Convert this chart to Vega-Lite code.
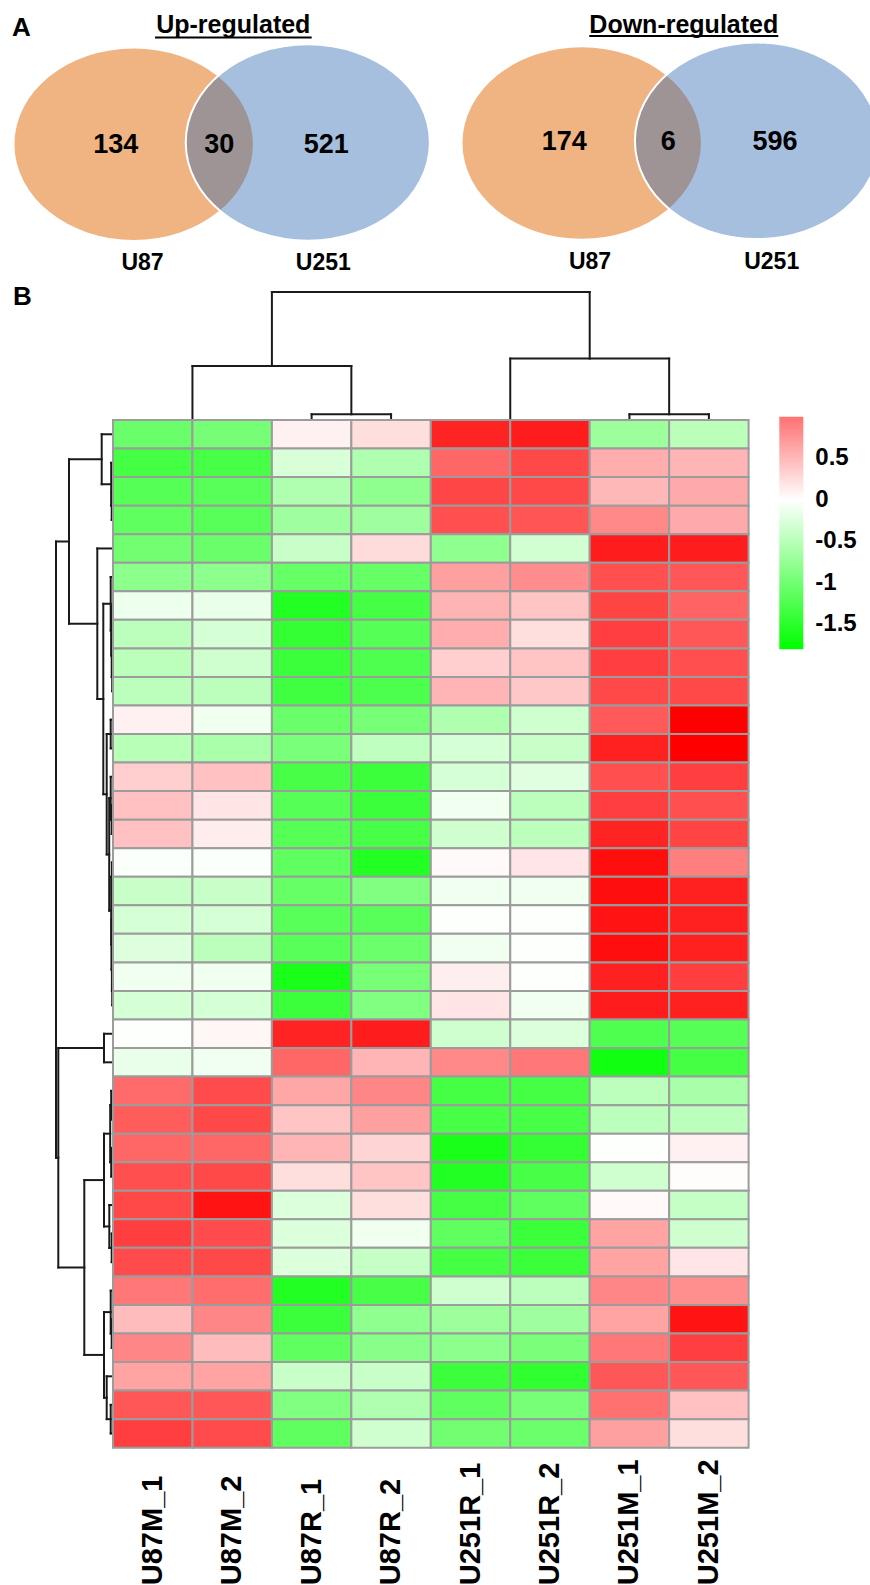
{
  "$schema": "https://vega.github.io/schema/vega-lite/v6.json",
  "padding": 0,
  "background": "white",
  "spacing": 0,
  "bounds": "flush",
  "config": {"view": {"stroke": null}, "font": "Liberation Sans"},
  "datasets": {
    "vennSets": [
      {"panel": "Up-regulated", "set": "U87", "cx": 13.37, "cy": 14.42},
      {"panel": "Up-regulated", "set": "U251", "cx": 30.78, "cy": 14.25},
      {"panel": "Down-regulated", "set": "U87", "cx": 58.17, "cy": 14.3},
      {"panel": "Down-regulated", "set": "U251", "cx": 75.7, "cy": 14.08}
    ],
    "vennCounts": [
      {"panel": "Up-regulated", "region": "U87 only", "count": 134, "x": 11.58, "y": 14.45},
      {"panel": "Up-regulated", "region": "both", "count": 30, "x": 21.92, "y": 14.45},
      {"panel": "Up-regulated", "region": "U251 only", "count": 521, "x": 32.63, "y": 14.45},
      {"panel": "Down-regulated", "region": "U87 only", "count": 174, "x": 56.42, "y": 14.17},
      {"panel": "Down-regulated", "region": "both", "count": 6, "x": 66.83, "y": 14.17},
      {"panel": "Down-regulated", "region": "U251 only", "count": 596, "x": 77.5, "y": 14.17}
    ],
    "vennSetLabels": [
      {"panel": "Up-regulated", "set": "U87", "x": 14.25, "y": 26.33},
      {"panel": "Up-regulated", "set": "U251", "x": 32.33, "y": 26.33},
      {"panel": "Down-regulated", "set": "U87", "x": 59.0, "y": 26.17},
      {"panel": "Down-regulated", "set": "U251", "x": 77.17, "y": 26.17}
    ],
    "vennTitles": [
      {"panel": "Up-regulated", "x": 23.33, "y": 3.3, "ux1": 15.5, "ux2": 31.17, "uy": 3.75},
      {"panel": "Down-regulated", "x": 68.38, "y": 3.25, "ux1": 58.93, "ux2": 77.83, "uy": 3.6}
    ],
    "colTree": [
      {"p1": 2, "p2": 6, "h1": 127.3, "h2": 127.3},
      {"p1": 2, "p2": 2, "h1": 53.3, "h2": 127.3},
      {"p1": 6, "p2": 6, "h1": 60.7, "h2": 127.3},
      {"p1": 1, "p2": 3, "h1": 53.3, "h2": 53.3},
      {"p1": 1, "p2": 1, "h1": 0, "h2": 53.3},
      {"p1": 3, "p2": 3, "h1": 5, "h2": 53.3},
      {"p1": 2.5, "p2": 3.5, "h1": 5, "h2": 5},
      {"p1": 2.5, "p2": 2.5, "h1": 0, "h2": 5},
      {"p1": 3.5, "p2": 3.5, "h1": 0, "h2": 5},
      {"p1": 5, "p2": 7, "h1": 60.7, "h2": 60.7},
      {"p1": 5, "p2": 5, "h1": 0, "h2": 60.7},
      {"p1": 7, "p2": 7, "h1": 5, "h2": 60.7},
      {"p1": 6.5, "p2": 7.5, "h1": 5, "h2": 5},
      {"p1": 6.5, "p2": 6.5, "h1": 0, "h2": 5},
      {"p1": 7.5, "p2": 7.5, "h1": 0, "h2": 5}
    ],
    "rowTree": [
      {"h1": 1, "h2": 1, "p1": 2.5, "p2": 3.5}, {"h1": 0, "h2": 1, "p1": 2.5, "p2": 2.5}, {"h1": 0, "h2": 1, "p1": 3.5, "p2": 3.5},
      {"h1": 1.5, "h2": 1.5, "p1": 1.5, "p2": 3.0}, {"h1": 0, "h2": 1.5, "p1": 1.5, "p2": 1.5}, {"h1": 1, "h2": 1.5, "p1": 3.0, "p2": 3.0},
      {"h1": 11, "h2": 11, "p1": 0.5, "p2": 2.25}, {"h1": 0, "h2": 11, "p1": 0.5, "p2": 0.5}, {"h1": 1.5, "h2": 11, "p1": 2.25, "p2": 2.25},
      {"h1": 0.5, "h2": 0.5, "p1": 8.5, "p2": 9.5}, {"h1": 0, "h2": 0.5, "p1": 8.5, "p2": 8.5}, {"h1": 0, "h2": 0.5, "p1": 9.5, "p2": 9.5},
      {"h1": 1, "h2": 1, "p1": 7.5, "p2": 9.0}, {"h1": 0, "h2": 1, "p1": 7.5, "p2": 7.5}, {"h1": 0.5, "h2": 1, "p1": 9.0, "p2": 9.0},
      {"h1": 1.5, "h2": 1.5, "p1": 6.5, "p2": 8.25}, {"h1": 0, "h2": 1.5, "p1": 6.5, "p2": 6.5}, {"h1": 1, "h2": 1.5, "p1": 8.25, "p2": 8.25},
      {"h1": 2, "h2": 2, "p1": 5.5, "p2": 7.375}, {"h1": 0, "h2": 2, "p1": 5.5, "p2": 5.5}, {"h1": 1.5, "h2": 2, "p1": 7.375, "p2": 7.375},
      {"h1": 2, "h2": 2, "p1": 10.5, "p2": 11.5}, {"h1": 0, "h2": 2, "p1": 10.5, "p2": 10.5}, {"h1": 0, "h2": 2, "p1": 11.5, "p2": 11.5},
      {"h1": 1, "h2": 1, "p1": 13.5, "p2": 14.5}, {"h1": 0, "h2": 1, "p1": 13.5, "p2": 13.5}, {"h1": 0, "h2": 1, "p1": 14.5, "p2": 14.5},
      {"h1": 2, "h2": 2, "p1": 12.5, "p2": 14.0}, {"h1": 0, "h2": 2, "p1": 12.5, "p2": 12.5}, {"h1": 1, "h2": 2, "p1": 14.0, "p2": 14.0},
      {"h1": 0.8, "h2": 0.8, "p1": 15.5, "p2": 16.5}, {"h1": 0, "h2": 0.8, "p1": 15.5, "p2": 15.5}, {"h1": 0, "h2": 0.8, "p1": 16.5, "p2": 16.5},
      {"h1": 0.5, "h2": 0.5, "p1": 19.5, "p2": 20.5}, {"h1": 0, "h2": 0.5, "p1": 19.5, "p2": 19.5}, {"h1": 0, "h2": 0.5, "p1": 20.5, "p2": 20.5},
      {"h1": 0.8, "h2": 0.8, "p1": 18.5, "p2": 20.0}, {"h1": 0, "h2": 0.8, "p1": 18.5, "p2": 18.5}, {"h1": 0.5, "h2": 0.8, "p1": 20.0, "p2": 20.0},
      {"h1": 1.2, "h2": 1.2, "p1": 17.5, "p2": 19.25}, {"h1": 0, "h2": 1.2, "p1": 17.5, "p2": 17.5}, {"h1": 0.8, "h2": 1.2, "p1": 19.25, "p2": 19.25},
      {"h1": 1.5, "h2": 1.5, "p1": 16.0, "p2": 18.375}, {"h1": 0.8, "h2": 1.5, "p1": 16.0, "p2": 16.0}, {"h1": 1.2, "h2": 1.5, "p1": 18.375, "p2": 18.375},
      {"h1": 3.5, "h2": 3.5, "p1": 13.25, "p2": 17.1875}, {"h1": 2, "h2": 3.5, "p1": 13.25, "p2": 13.25}, {"h1": 1.5, "h2": 3.5, "p1": 17.1875, "p2": 17.1875},
      {"h1": 6, "h2": 6, "p1": 11.0, "p2": 15.2188}, {"h1": 2, "h2": 6, "p1": 11.0, "p2": 11.0}, {"h1": 3.5, "h2": 6, "p1": 15.2188, "p2": 15.2188},
      {"h1": 9.4, "h2": 9.4, "p1": 6.4375, "p2": 13.1094}, {"h1": 2, "h2": 9.4, "p1": 6.4375, "p2": 6.4375}, {"h1": 6, "h2": 9.4, "p1": 13.1094, "p2": 13.1094},
      {"h1": 15.4, "h2": 15.4, "p1": 4.5, "p2": 9.7734}, {"h1": 0, "h2": 15.4, "p1": 4.5, "p2": 4.5}, {"h1": 9.4, "h2": 15.4, "p1": 9.7734, "p2": 9.7734},
      {"h1": 43.7, "h2": 43.7, "p1": 1.375, "p2": 7.1367}, {"h1": 11, "h2": 43.7, "p1": 1.375, "p2": 1.375}, {"h1": 15.4, "h2": 43.7, "p1": 7.1367, "p2": 7.1367},
      {"h1": 8.7, "h2": 8.7, "p1": 21.5, "p2": 22.5}, {"h1": 0, "h2": 8.7, "p1": 21.5, "p2": 21.5}, {"h1": 0, "h2": 8.7, "p1": 22.5, "p2": 22.5},
      {"h1": 1.5, "h2": 1.5, "p1": 23.5, "p2": 24.5}, {"h1": 0, "h2": 1.5, "p1": 23.5, "p2": 23.5}, {"h1": 0, "h2": 1.5, "p1": 24.5, "p2": 24.5},
      {"h1": 1.5, "h2": 1.5, "p1": 25.5, "p2": 26.5}, {"h1": 0, "h2": 1.5, "p1": 25.5, "p2": 25.5}, {"h1": 0, "h2": 1.5, "p1": 26.5, "p2": 26.5},
      {"h1": 2.5, "h2": 2.5, "p1": 24, "p2": 26}, {"h1": 1.5, "h2": 2.5, "p1": 24, "p2": 24}, {"h1": 1.5, "h2": 2.5, "p1": 26, "p2": 26},
      {"h1": 1, "h2": 1, "p1": 28.5, "p2": 29.5}, {"h1": 0, "h2": 1, "p1": 28.5, "p2": 28.5}, {"h1": 0, "h2": 1, "p1": 29.5, "p2": 29.5},
      {"h1": 3.4, "h2": 3.4, "p1": 27.5, "p2": 29}, {"h1": 0, "h2": 3.4, "p1": 27.5, "p2": 27.5}, {"h1": 1, "h2": 3.4, "p1": 29, "p2": 29},
      {"h1": 8.7, "h2": 8.7, "p1": 25, "p2": 28.25}, {"h1": 2.5, "h2": 8.7, "p1": 25, "p2": 25}, {"h1": 3.4, "h2": 8.7, "p1": 28.25, "p2": 28.25},
      {"h1": 1, "h2": 1, "p1": 31.5, "p2": 32.5}, {"h1": 0, "h2": 1, "p1": 31.5, "p2": 31.5}, {"h1": 0, "h2": 1, "p1": 32.5, "p2": 32.5},
      {"h1": 2, "h2": 2, "p1": 30.5, "p2": 32}, {"h1": 0, "h2": 2, "p1": 30.5, "p2": 30.5}, {"h1": 1, "h2": 2, "p1": 32, "p2": 32},
      {"h1": 2, "h2": 2, "p1": 34.5, "p2": 35.5}, {"h1": 0, "h2": 2, "p1": 34.5, "p2": 34.5}, {"h1": 0, "h2": 2, "p1": 35.5, "p2": 35.5},
      {"h1": 6, "h2": 6, "p1": 33.5, "p2": 35}, {"h1": 0, "h2": 6, "p1": 33.5, "p2": 33.5}, {"h1": 2, "h2": 6, "p1": 35, "p2": 35},
      {"h1": 8.7, "h2": 8.7, "p1": 31.25, "p2": 34.25}, {"h1": 2, "h2": 8.7, "p1": 31.25, "p2": 31.25}, {"h1": 6, "h2": 8.7, "p1": 34.25, "p2": 34.25},
      {"h1": 28.4, "h2": 28.4, "p1": 26.625, "p2": 32.75}, {"h1": 8.7, "h2": 28.4, "p1": 26.625, "p2": 26.625}, {"h1": 8.7, "h2": 28.4, "p1": 32.75, "p2": 32.75},
      {"h1": 54.4, "h2": 54.4, "p1": 22, "p2": 29.6875}, {"h1": 8.7, "h2": 54.4, "p1": 22, "p2": 22}, {"h1": 28.4, "h2": 54.4, "p1": 29.6875, "p2": 29.6875},
      {"h1": 56.7, "h2": 56.7, "p1": 4.2559, "p2": 25.8438}, {"h1": 43.7, "h2": 56.7, "p1": 4.2559, "p2": 4.2559}, {"h1": 54.4, "h2": 56.7, "p1": 25.8438, "p2": 25.8438}
    ],
    "cells": [
      {"gene":1,"sample":"U87M_1","value":-1.05},{"gene":1,"sample":"U87M_2","value":-0.97},{"gene":1,"sample":"U87R_1","value":0.10},{"gene":1,"sample":"U87R_2","value":0.23},{"gene":1,"sample":"U251R_1","value":1.54},{"gene":1,"sample":"U251R_2","value":1.60},{"gene":1,"sample":"U251M_1","value":-0.70},{"gene":1,"sample":"U251M_2","value":-0.48},
      {"gene":2,"sample":"U87M_1","value":-1.32},{"gene":2,"sample":"U87M_2","value":-1.29},{"gene":2,"sample":"U87R_1","value":-0.27},{"gene":2,"sample":"U87R_2","value":-0.56},{"gene":2,"sample":"U251R_1","value":1.08},{"gene":2,"sample":"U251R_2","value":1.29},{"gene":2,"sample":"U251M_1","value":0.58},{"gene":2,"sample":"U251M_2","value":0.52},
      {"gene":3,"sample":"U87M_1","value":-1.20},{"gene":3,"sample":"U87M_2","value":-1.18},{"gene":3,"sample":"U87R_1","value":-0.56},{"gene":3,"sample":"U87R_2","value":-0.79},{"gene":3,"sample":"U251R_1","value":1.30},{"gene":3,"sample":"U251R_2","value":1.28},{"gene":3,"sample":"U251M_1","value":0.50},{"gene":3,"sample":"U251M_2","value":0.60},
      {"gene":4,"sample":"U87M_1","value":-1.12},{"gene":4,"sample":"U87M_2","value":-1.18},{"gene":4,"sample":"U87R_1","value":-0.68},{"gene":4,"sample":"U87R_2","value":-0.68},{"gene":4,"sample":"U251R_1","value":1.24},{"gene":4,"sample":"U251R_2","value":1.20},{"gene":4,"sample":"U251M_1","value":0.84},{"gene":4,"sample":"U251M_2","value":0.60},
      {"gene":5,"sample":"U87M_1","value":-1.00},{"gene":5,"sample":"U87M_2","value":-1.05},{"gene":5,"sample":"U87R_1","value":-0.39},{"gene":5,"sample":"U87R_2","value":0.25},{"gene":5,"sample":"U251R_1","value":-0.79},{"gene":5,"sample":"U251R_2","value":-0.32},{"gene":5,"sample":"U251M_1","value":1.60},{"gene":5,"sample":"U251M_2","value":1.60},
      {"gene":6,"sample":"U87M_1","value":-0.81},{"gene":6,"sample":"U87M_2","value":-0.81},{"gene":6,"sample":"U87R_1","value":-1.08},{"gene":6,"sample":"U87R_2","value":-1.08},{"gene":6,"sample":"U251R_1","value":0.67},{"gene":6,"sample":"U251R_2","value":0.80},{"gene":6,"sample":"U251M_1","value":1.24},{"gene":6,"sample":"U251M_2","value":1.18},
      {"gene":7,"sample":"U87M_1","value":-0.13},{"gene":7,"sample":"U87M_2","value":-0.15},{"gene":7,"sample":"U87R_1","value":-1.56},{"gene":7,"sample":"U87R_2","value":-1.32},{"gene":7,"sample":"U251R_1","value":0.53},{"gene":7,"sample":"U251R_2","value":0.41},{"gene":7,"sample":"U251M_1","value":1.32},{"gene":7,"sample":"U251M_2","value":1.10},
      {"gene":8,"sample":"U87M_1","value":-0.47},{"gene":8,"sample":"U87M_2","value":-0.30},{"gene":8,"sample":"U87R_1","value":-1.44},{"gene":8,"sample":"U87R_2","value":-1.20},{"gene":8,"sample":"U251R_1","value":0.58},{"gene":8,"sample":"U251R_2","value":0.23},{"gene":8,"sample":"U251M_1","value":1.35},{"gene":8,"sample":"U251M_2","value":1.18},
      {"gene":9,"sample":"U87M_1","value":-0.48},{"gene":9,"sample":"U87M_2","value":-0.34},{"gene":9,"sample":"U87R_1","value":-1.38},{"gene":9,"sample":"U87R_2","value":-1.24},{"gene":9,"sample":"U251R_1","value":0.34},{"gene":9,"sample":"U251R_2","value":0.41},{"gene":9,"sample":"U251M_1","value":1.35},{"gene":9,"sample":"U251M_2","value":1.24},
      {"gene":10,"sample":"U87M_1","value":-0.47},{"gene":10,"sample":"U87M_2","value":-0.47},{"gene":10,"sample":"U87R_1","value":-1.35},{"gene":10,"sample":"U87R_2","value":-1.26},{"gene":10,"sample":"U251R_1","value":0.52},{"gene":10,"sample":"U251R_2","value":0.39},{"gene":10,"sample":"U251M_1","value":1.29},{"gene":10,"sample":"U251M_2","value":1.29},
      {"gene":11,"sample":"U87M_1","value":0.10},{"gene":11,"sample":"U87M_2","value":-0.10},{"gene":11,"sample":"U87R_1","value":-1.05},{"gene":11,"sample":"U87R_2","value":-0.96},{"gene":11,"sample":"U251R_1","value":-0.56},{"gene":11,"sample":"U251R_2","value":-0.34},{"gene":11,"sample":"U251M_1","value":1.17},{"gene":11,"sample":"U251M_2","value":1.80},
      {"gene":12,"sample":"U87M_1","value":-0.50},{"gene":12,"sample":"U87M_2","value":-0.60},{"gene":12,"sample":"U87R_1","value":-0.94},{"gene":12,"sample":"U87R_2","value":-0.45},{"gene":12,"sample":"U251R_1","value":-0.30},{"gene":12,"sample":"U251R_2","value":-0.39},{"gene":12,"sample":"U251M_1","value":1.57},{"gene":12,"sample":"U251M_2","value":1.80},
      {"gene":13,"sample":"U87M_1","value":0.34},{"gene":13,"sample":"U87M_2","value":0.44},{"gene":13,"sample":"U87R_1","value":-1.29},{"gene":13,"sample":"U87R_2","value":-1.38},{"gene":13,"sample":"U251R_1","value":-0.30},{"gene":13,"sample":"U251R_2","value":-0.22},{"gene":13,"sample":"U251M_1","value":1.24},{"gene":13,"sample":"U251M_2","value":1.35},
      {"gene":14,"sample":"U87M_1","value":0.44},{"gene":14,"sample":"U87M_2","value":0.18},{"gene":14,"sample":"U87R_1","value":-1.20},{"gene":14,"sample":"U87R_2","value":-1.39},{"gene":14,"sample":"U251R_1","value":-0.10},{"gene":14,"sample":"U251R_2","value":-0.47},{"gene":14,"sample":"U251M_1","value":1.35},{"gene":14,"sample":"U251M_2","value":1.24},
      {"gene":15,"sample":"U87M_1","value":0.44},{"gene":15,"sample":"U87M_2","value":0.13},{"gene":15,"sample":"U87R_1","value":-1.20},{"gene":15,"sample":"U87R_2","value":-1.29},{"gene":15,"sample":"U251R_1","value":-0.34},{"gene":15,"sample":"U251R_2","value":-0.47},{"gene":15,"sample":"U251M_1","value":1.54},{"gene":15,"sample":"U251M_2","value":1.32},
      {"gene":16,"sample":"U87M_1","value":-0.03},{"gene":16,"sample":"U87M_2","value":-0.03},{"gene":16,"sample":"U87R_1","value":-1.12},{"gene":16,"sample":"U87R_2","value":-1.56},{"gene":16,"sample":"U251R_1","value":0.04},{"gene":16,"sample":"U251R_2","value":0.18},{"gene":16,"sample":"U251M_1","value":1.70},{"gene":16,"sample":"U251M_2","value":0.90},
      {"gene":17,"sample":"U87M_1","value":-0.39},{"gene":17,"sample":"U87M_2","value":-0.39},{"gene":17,"sample":"U87R_1","value":-1.08},{"gene":17,"sample":"U87R_2","value":-0.90},{"gene":17,"sample":"U251R_1","value":-0.10},{"gene":17,"sample":"U251R_2","value":-0.10},{"gene":17,"sample":"U251M_1","value":1.70},{"gene":17,"sample":"U251M_2","value":1.57},
      {"gene":18,"sample":"U87M_1","value":-0.30},{"gene":18,"sample":"U87M_2","value":-0.30},{"gene":18,"sample":"U87R_1","value":-1.18},{"gene":18,"sample":"U87R_2","value":-1.18},{"gene":18,"sample":"U251R_1","value":-0.02},{"gene":18,"sample":"U251R_2","value":-0.02},{"gene":18,"sample":"U251M_1","value":1.66},{"gene":18,"sample":"U251M_2","value":1.57},
      {"gene":19,"sample":"U87M_1","value":-0.24},{"gene":19,"sample":"U87M_2","value":-0.47},{"gene":19,"sample":"U87R_1","value":-1.18},{"gene":19,"sample":"U87R_2","value":-1.04},{"gene":19,"sample":"U251R_1","value":-0.10},{"gene":19,"sample":"U251R_2","value":-0.02},{"gene":19,"sample":"U251M_1","value":1.70},{"gene":19,"sample":"U251M_2","value":1.57},
      {"gene":20,"sample":"U87M_1","value":-0.10},{"gene":20,"sample":"U87M_2","value":-0.10},{"gene":20,"sample":"U87R_1","value":-1.62},{"gene":20,"sample":"U87R_2","value":-0.96},{"gene":20,"sample":"U251R_1","value":0.12},{"gene":20,"sample":"U251R_2","value":-0.02},{"gene":20,"sample":"U251M_1","value":1.56},{"gene":20,"sample":"U251M_2","value":1.35},
      {"gene":21,"sample":"U87M_1","value":-0.30},{"gene":21,"sample":"U87M_2","value":-0.30},{"gene":21,"sample":"U87R_1","value":-1.38},{"gene":21,"sample":"U87R_2","value":-0.90},{"gene":21,"sample":"U251R_1","value":0.18},{"gene":21,"sample":"U251R_2","value":-0.10},{"gene":21,"sample":"U251M_1","value":1.60},{"gene":21,"sample":"U251M_2","value":1.57},
      {"gene":22,"sample":"U87M_1","value":-0.02},{"gene":22,"sample":"U87M_2","value":0.06},{"gene":22,"sample":"U87R_1","value":1.55},{"gene":22,"sample":"U87R_2","value":1.60},{"gene":22,"sample":"U251R_1","value":-0.34},{"gene":22,"sample":"U251R_2","value":-0.25},{"gene":22,"sample":"U251M_1","value":-1.24},{"gene":22,"sample":"U251M_2","value":-1.20},
      {"gene":23,"sample":"U87M_1","value":-0.15},{"gene":23,"sample":"U87M_2","value":-0.10},{"gene":23,"sample":"U87R_1","value":1.08},{"gene":23,"sample":"U87R_2","value":0.52},{"gene":23,"sample":"U251R_1","value":0.84},{"gene":23,"sample":"U251R_2","value":0.96},{"gene":23,"sample":"U251M_1","value":-1.68},{"gene":23,"sample":"U251M_2","value":-1.32},
      {"gene":24,"sample":"U87M_1","value":1.05},{"gene":24,"sample":"U87M_2","value":1.27},{"gene":24,"sample":"U87R_1","value":0.62},{"gene":24,"sample":"U87R_2","value":0.85},{"gene":24,"sample":"U251R_1","value":-1.32},{"gene":24,"sample":"U251R_2","value":-1.32},{"gene":24,"sample":"U251M_1","value":-0.47},{"gene":24,"sample":"U251M_2","value":-0.61},
      {"gene":25,"sample":"U87M_1","value":1.15},{"gene":25,"sample":"U87M_2","value":1.29},{"gene":25,"sample":"U87R_1","value":0.41},{"gene":25,"sample":"U87R_2","value":0.67},{"gene":25,"sample":"U251R_1","value":-1.29},{"gene":25,"sample":"U251R_2","value":-1.29},{"gene":25,"sample":"U251M_1","value":-0.47},{"gene":25,"sample":"U251M_2","value":-0.47},
      {"gene":26,"sample":"U87M_1","value":1.08},{"gene":26,"sample":"U87M_2","value":1.08},{"gene":26,"sample":"U87R_1","value":0.52},{"gene":26,"sample":"U87R_2","value":0.30},{"gene":26,"sample":"U251R_1","value":-1.62},{"gene":26,"sample":"U251R_2","value":-1.44},{"gene":26,"sample":"U251M_1","value":-0.02},{"gene":26,"sample":"U251M_2","value":0.10},
      {"gene":27,"sample":"U87M_1","value":1.24},{"gene":27,"sample":"U87M_2","value":1.29},{"gene":27,"sample":"U87R_1","value":0.23},{"gene":27,"sample":"U87R_2","value":0.41},{"gene":27,"sample":"U251R_1","value":-1.56},{"gene":27,"sample":"U251R_2","value":-1.29},{"gene":27,"sample":"U251M_1","value":-0.34},{"gene":27,"sample":"U251M_2","value":0.02},
      {"gene":28,"sample":"U87M_1","value":1.29},{"gene":28,"sample":"U87M_2","value":1.66},{"gene":28,"sample":"U87R_1","value":-0.25},{"gene":28,"sample":"U87R_2","value":0.23},{"gene":28,"sample":"U251R_1","value":-1.32},{"gene":28,"sample":"U251R_2","value":-1.14},{"gene":28,"sample":"U251M_1","value":0.04},{"gene":28,"sample":"U251M_2","value":-0.41},
      {"gene":29,"sample":"U87M_1","value":1.35},{"gene":29,"sample":"U87M_2","value":1.27},{"gene":29,"sample":"U87R_1","value":-0.25},{"gene":29,"sample":"U87R_2","value":-0.10},{"gene":29,"sample":"U251R_1","value":-1.14},{"gene":29,"sample":"U251R_2","value":-1.39},{"gene":29,"sample":"U251M_1","value":0.65},{"gene":29,"sample":"U251M_2","value":-0.34},
      {"gene":30,"sample":"U87M_1","value":1.27},{"gene":30,"sample":"U87M_2","value":1.29},{"gene":30,"sample":"U87R_1","value":-0.25},{"gene":30,"sample":"U87R_2","value":-0.41},{"gene":30,"sample":"U251R_1","value":-1.32},{"gene":30,"sample":"U251R_2","value":-1.38},{"gene":30,"sample":"U251M_1","value":0.65},{"gene":30,"sample":"U251M_2","value":0.18},
      {"gene":31,"sample":"U87M_1","value":0.96},{"gene":31,"sample":"U87M_2","value":1.03},{"gene":31,"sample":"U87R_1","value":-1.56},{"gene":31,"sample":"U87R_2","value":-1.29},{"gene":31,"sample":"U251R_1","value":-0.34},{"gene":31,"sample":"U251R_2","value":-0.47},{"gene":31,"sample":"U251M_1","value":0.85},{"gene":31,"sample":"U251M_2","value":0.79},
      {"gene":32,"sample":"U87M_1","value":0.47},{"gene":32,"sample":"U87M_2","value":0.85},{"gene":32,"sample":"U87R_1","value":-1.39},{"gene":32,"sample":"U87R_2","value":-0.79},{"gene":32,"sample":"U251R_1","value":-0.70},{"gene":32,"sample":"U251R_2","value":-0.68},{"gene":32,"sample":"U251M_1","value":0.65},{"gene":32,"sample":"U251M_2","value":1.66},
      {"gene":33,"sample":"U87M_1","value":0.85},{"gene":33,"sample":"U87M_2","value":0.47},{"gene":33,"sample":"U87R_1","value":-1.14},{"gene":33,"sample":"U87R_2","value":-0.84},{"gene":33,"sample":"U251R_1","value":-0.81},{"gene":33,"sample":"U251R_2","value":-0.93},{"gene":33,"sample":"U251M_1","value":0.96},{"gene":33,"sample":"U251M_2","value":1.35},
      {"gene":34,"sample":"U87M_1","value":0.65},{"gene":34,"sample":"U87M_2","value":0.65},{"gene":34,"sample":"U87R_1","value":-0.39},{"gene":34,"sample":"U87R_2","value":-0.39},{"gene":34,"sample":"U251R_1","value":-1.39},{"gene":34,"sample":"U251R_2","value":-1.46},{"gene":34,"sample":"U251M_1","value":1.18},{"gene":34,"sample":"U251M_2","value":1.18},
      {"gene":35,"sample":"U87M_1","value":1.18},{"gene":35,"sample":"U87M_2","value":1.18},{"gene":35,"sample":"U87R_1","value":-0.90},{"gene":35,"sample":"U87R_2","value":-0.56},{"gene":35,"sample":"U251R_1","value":-1.14},{"gene":35,"sample":"U251R_2","value":-0.96},{"gene":35,"sample":"U251M_1","value":1.00},{"gene":35,"sample":"U251M_2","value":0.44},
      {"gene":36,"sample":"U87M_1","value":1.35},{"gene":36,"sample":"U87M_2","value":1.27},{"gene":36,"sample":"U87R_1","value":-1.14},{"gene":36,"sample":"U87R_2","value":-0.34},{"gene":36,"sample":"U251R_1","value":-1.00},{"gene":36,"sample":"U251R_2","value":-1.04},{"gene":36,"sample":"U251M_1","value":0.67},{"gene":36,"sample":"U251M_2","value":0.23}
    ]
  },
  "vconcat": [
    {
      "width": 870,
      "height": 270,
      "layer": [
        {
          "data": {"name": "vennSets"},
          "transform": [{"filter": "datum.set === 'U87'"}],
          "mark": {"type": "point", "shape": "M 1 0 C 1 0.4446 0.5523 0.805 0 0.805 C -0.5523 0.805 -1 0.4446 -1 0 C -1 -0.4446 -0.5523 -0.805 0 -0.805 C 0.5523 -0.805 1 -0.4446 1 0 Z", "filled": true, "fill": "#f0b482", "fillOpacity": 1, "opacity": 1, "stroke": "white", "strokeWidth": 2, "strokeOpacity": 1, "size": 57800},
          "encoding": {
            "x": {"field": "cx", "type": "quantitative", "scale": {"domain": [0, 87], "nice": false, "zero": false}, "axis": null},
            "y": {"field": "cy", "type": "quantitative", "scale": {"domain": [0, 27], "nice": false, "zero": false, "reverse": true}, "axis": null}
          }
        },
        {
          "data": {"name": "vennSets"},
          "transform": [{"filter": "datum.set === 'U251'"}],
          "mark": {"type": "point", "clip": true, "shape": "M 1 0 C 1 0.4446 0.5523 0.805 0 0.805 C -0.5523 0.805 -1 0.4446 -1 0 C -1 -0.4446 -0.5523 -0.805 0 -0.805 C 0.5523 -0.805 1 -0.4446 1 0 Z", "filled": true, "fill": "#2e67b0", "fillOpacity": 0.42, "opacity": 1, "stroke": "white", "strokeWidth": 2, "strokeOpacity": 1, "size": 59600},
          "encoding": {
            "x": {"field": "cx", "type": "quantitative"},
            "y": {"field": "cy", "type": "quantitative"}
          }
        },
        {
          "data": {"name": "vennCounts"},
          "mark": {"type": "text", "font": "Liberation Sans", "fontWeight": "bold", "fontSize": 27, "align": "center", "baseline": "middle", "color": "black"},
          "encoding": {
            "x": {"field": "x", "type": "quantitative"},
            "y": {"field": "y", "type": "quantitative"},
            "text": {"field": "count", "type": "quantitative"}
          }
        },
        {
          "data": {"name": "vennSetLabels"},
          "mark": {"type": "text", "font": "Liberation Sans", "fontWeight": "bold", "fontSize": 23, "align": "center", "baseline": "middle", "color": "black"},
          "encoding": {
            "x": {"field": "x", "type": "quantitative"},
            "y": {"field": "y", "type": "quantitative"},
            "text": {"field": "set", "type": "nominal"}
          }
        },
        {
          "data": {"name": "vennTitles"},
          "mark": {"type": "text", "font": "Liberation Sans", "fontWeight": "bold", "fontSize": 25, "align": "center", "baseline": "alphabetic", "color": "black"},
          "encoding": {
            "x": {"field": "x", "type": "quantitative"},
            "y": {"field": "y", "type": "quantitative"},
            "text": {"field": "panel", "type": "nominal"}
          }
        },
        {
          "data": {"name": "vennTitles"},
          "mark": {"type": "rule", "color": "black", "strokeWidth": 2},
          "encoding": {
            "x": {"field": "ux1", "type": "quantitative"},
            "x2": {"field": "ux2"},
            "y": {"field": "uy", "type": "quantitative"}
          }
        },
        {
          "data": {"values": [{"label": "A", "x": 1.2, "y": 3.6}]},
          "mark": {"type": "text", "font": "Liberation Sans", "fontWeight": "bold", "fontSize": 26, "align": "left", "baseline": "alphabetic", "color": "black"},
          "encoding": {
            "x": {"field": "x", "type": "quantitative"},
            "y": {"field": "y", "type": "quantitative"},
            "text": {"field": "label", "type": "nominal"}
          }
        }
      ]
    },
    {
      "columns": 2,
      "spacing": 0,
      "bounds": "flush",
      "concat": [
        {
          "width": 112.7,
          "height": 149.3,
          "data": {"values": [{"label": "B", "x": 1.3, "y": 3.5}]},
          "mark": {"type": "text", "font": "Liberation Sans", "fontWeight": "bold", "fontSize": 26, "align": "left", "baseline": "alphabetic", "color": "black"},
          "encoding": {
            "x": {"field": "x", "type": "quantitative", "scale": {"domain": [0, 11.27], "nice": false, "zero": false}, "axis": null},
            "y": {"field": "y", "type": "quantitative", "scale": {"domain": [0, 14.93], "nice": false, "zero": false, "reverse": true}, "axis": null},
            "text": {"field": "label", "type": "nominal"}
          }
        },
        {
          "width": 635.6,
          "height": 149.3,
          "data": {"name": "colTree"},
          "mark": {"type": "rule", "color": "#1a1a1a", "strokeWidth": 2, "strokeCap": "square"},
          "encoding": {
            "x": {"field": "p1", "type": "quantitative", "scale": {"domain": [0, 8], "nice": false, "zero": false}, "axis": null},
            "x2": {"field": "p2"},
            "y": {"field": "h1", "type": "quantitative", "scale": {"domain": [0, 149.3], "nice": false, "zero": false}, "axis": null},
            "y2": {"field": "h2"}
          }
        },
        {
          "width": 112.7,
          "height": 1027.7,
          "data": {"name": "rowTree"},
          "mark": {"type": "rule", "color": "#1a1a1a", "strokeWidth": 2, "strokeCap": "square"},
          "encoding": {
            "x": {"field": "h1", "type": "quantitative", "scale": {"domain": [0, 112.7], "nice": false, "zero": false, "reverse": true}, "axis": null},
            "x2": {"field": "h2"},
            "y": {"field": "p1", "type": "quantitative", "scale": {"domain": [0, 36], "nice": false, "zero": false, "reverse": true}, "axis": null},
            "y2": {"field": "p2"}
          }
        },
        {
          "width": 635.6,
          "height": 1027.7,
          "data": {"name": "cells"},
          "mark": {"type": "rect", "stroke": "#9c9c9c", "strokeWidth": 2},
          "encoding": {
            "x": {
              "field": "sample", "type": "nominal",
              "sort": ["U87M_1", "U87M_2", "U87R_1", "U87R_2", "U251R_1", "U251R_2", "U251M_1", "U251M_2"],
              "scale": {"paddingInner": 0, "paddingOuter": 0},
              "axis": {"orient": "bottom", "title": null, "domain": false, "ticks": false, "tickSize": 0, "labelAngle": -90, "labelAlign": "left", "labelBaseline": "middle", "labelPadding": 137, "labelFont": "Liberation Sans", "labelFontSize": 29, "labelFontWeight": "bold", "labelColor": "black", "labelLimit": 0, "labelOverlap": false}
            },
            "y": {"field": "gene", "type": "ordinal", "scale": {"paddingInner": 0, "paddingOuter": 0}, "axis": null},
            "color": {
              "field": "value", "type": "quantitative",
              "scale": {"domain": [-1.8, 0, 1], "range": ["#00ff00", "#ffffff", "#ff7171"], "interpolate": "rgb", "clamp": false},
              "legend": {"orient": "none", "legendX": 779.3, "legendY": 416.7, "direction": "vertical", "title": null, "gradientLength": 232.6, "gradientThickness": 24, "gradientStrokeWidth": 0, "values": [-1.5, -1, -0.5, 0, 0.5], "labelExpr": "datum.value + ''", "labelFont": "Liberation Sans", "labelFontSize": 24, "labelFontWeight": "bold", "labelColor": "black", "labelOffset": 12, "padding": 0, "labelOverlap": false}
            }
          }
        }
      ]
    }
  ]
}
